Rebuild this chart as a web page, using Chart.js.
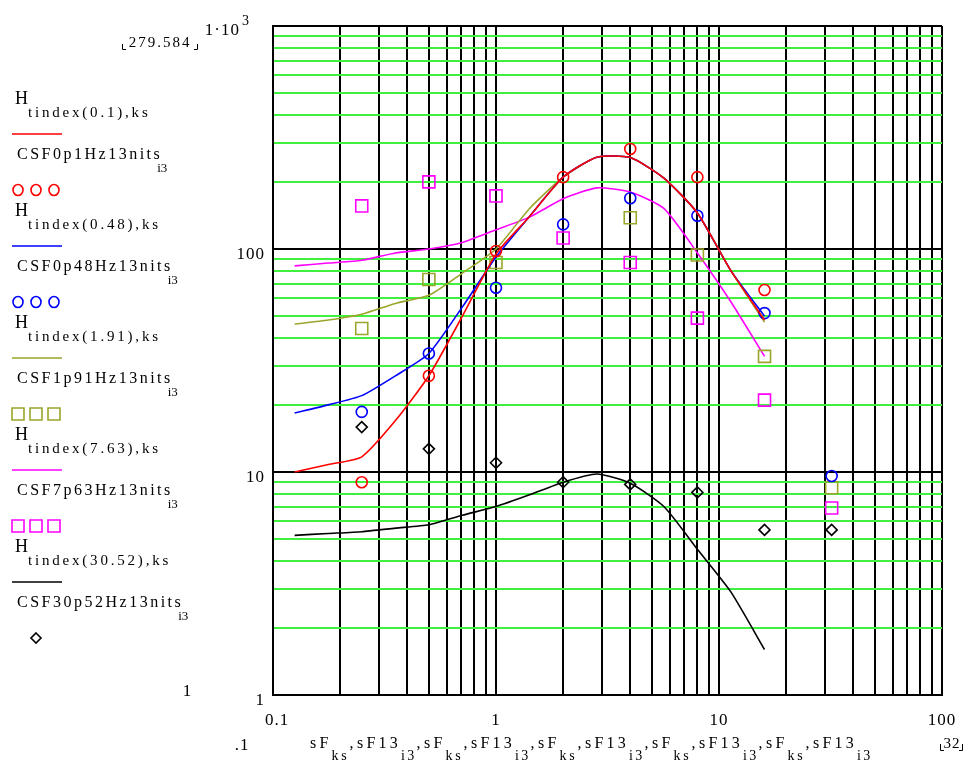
<!DOCTYPE html>
<html>
<head>
<meta charset="utf-8">
<script src="https://cdn.jsdelivr.net/npm/chart.js@4.4.1/dist/chart.umd.min.js"></script>
<style>
  html, body { margin: 0; padding: 0; background: #fff; }
  #wrap { width: 963px; height: 768px; }
</style>
</head>
<body>
<div id="wrap"><canvas id="chart" width="963" height="768"></canvas></div>
<script>
// --- model curves H_tindex(f), sampled on ks ---
const lineX  = [0.125, 0.177, 0.25, 0.354, 0.5, 0.707, 1, 1.414, 2, 2.83, 4, 5.66, 8, 11.3, 16];
const hRed   = [10, 10.8, 11.7, 17, 27, 50, 95, 140, 210, 258, 257, 208, 145, 80, 48];
const hBlue  = [18.4, 20, 22, 27, 34, 55, 92, 140, 210, 258, 257, 208, 145, 80, 50];
const hOlive = [46, 48, 51, 57, 62, 78, 100, 152, 210, 258, 257, 208, 145, 80, 47];
const hPink  = [84, 86.5, 89, 96, 100, 107, 122, 139, 168, 188, 180, 152, 96, 58, 33];
const hBlack = [5.2, 5.3, 5.4, 5.6, 5.8, 6.4, 7.0, 7.9, 9.0, 9.8, 8.9, 7.0, 4.5, 2.9, 1.6];

// --- measured CSF points, sF13_i3 ---
const csfX     = [0.25, 0.5, 1, 2, 4, 8, 16, 32];
const csfRed   = [9.0, 27, 98, 210, 281, 210, 65.5, null];
const csfBlue  = [18.6, 34, 67, 129, 169, 141, 51.6, 9.6];
const csfOlive = [44, 73, 87, null, 138, 94, 33, 8.5];
const csfPink  = [156, 200, 173, 112, 87, 49, 21, 6.9];
const csfBlack = [15.9, 12.7, 11, 9.0, 8.8, 8.1, 5.5, 5.5];

// axes
const xDecades = [0.1, 1, 10, 100];
const yDecades = [1, 10, 100, 1000];
const xTickLabels = ['0.1', '1', '10', '100'];
const yTickLabels = ['1', '10', '100', '1\u00b710'];

// legend texts
const hLabels   = ['tindex(0.1),ks', 'tindex(0.48),ks', 'tindex(1.91),ks', 'tindex(7.63),ks', 'tindex(30.52),ks'];
const csfLabels = ['CSF0p1Hz13nits', 'CSF0p48Hz13nits', 'CSF1p91Hz13nits', 'CSF7p63Hz13nits', 'CSF30p52Hz13nits'];

const colors  = ['#ff0000', '#0000ff', '#9aa52a', '#ff00ff', '#000000'];
const markers = ['circle', 'circle', 'rect', 'rect', 'rectRot'];
const GREEN = '#3ff03f';
const FONT = '"Liberation Serif", "DejaVu Serif", serif';

function gridValues(decades) {
  const vals = [];
  for (let i = 0; i < decades.length - 1; i++) {
    for (let k = 1; k <= 9; k++) vals.push(decades[i] * k);
  }
  vals.push(decades[decades.length - 1]);
  return vals;
}
function isDecade(v) {
  const l = Math.log10(v);
  return Math.abs(l - Math.round(l)) < 1e-9;
}

const curves = [hRed, hBlue, hOlive, hPink, hBlack];
const points = [csfRed, csfBlue, csfOlive, csfPink, csfBlack];

const datasets = [];
curves.forEach((ys, i) => {
  datasets.push({
    data: lineX.map((x, j) => ({ x, y: ys[j] })),
    showLine: true,
    borderColor: colors[i],
    borderWidth: 1.6,
    pointRadius: 0,
    tension: 0.2,
    fill: false
  });
  datasets.push({
    data: csfX.map((x, j) => ({ x, y: points[i][j] })).filter(p => p.y != null),
    showLine: false,
    pointStyle: markers[i],
    pointRadius: markers[i] === 'rect' ? 8.5 : 5.5,
    pointBorderWidth: 1.6,
    pointBorderColor: colors[i],
    pointBackgroundColor: 'rgba(0,0,0,0)'
  });
});

function txt(ctx, s, x, y, size, align, spacing) {
  ctx.font = size + 'px ' + FONT;
  ctx.letterSpacing = (spacing || 0) + 'px';
  ctx.textAlign = align || 'left';
  ctx.fillText(s, x, y);
  return ctx.measureText(s).width;
}

function marker(ctx, style, x, y, color) {
  ctx.strokeStyle = color;
  ctx.lineWidth = 1.6;
  ctx.beginPath();
  if (style === 'circle') {
    ctx.ellipse(x, y, 5, 5.5, 0, 0, Math.PI * 2);
  } else if (style === 'rect') {
    ctx.rect(x - 6, y - 6, 12, 12);
  } else {
    ctx.moveTo(x, y - 5); ctx.lineTo(x + 5, y); ctx.lineTo(x, y + 5); ctx.lineTo(x - 5, y); ctx.closePath();
  }
  ctx.stroke();
}

const mathcadText = {
  id: 'mathcadText',
  afterDraw(chart) {
    const ctx = chart.ctx;
    const xs = chart.scales.x, ys = chart.scales.y;
    ctx.save();
    ctx.fillStyle = '#000';
    ctx.textBaseline = 'alphabetic';

    // y tick labels
    yDecades.forEach((v, i) => {
      const py = ys.getPixelForValue(v);
      if (i === yDecades.length - 1) {
        txt(ctx, yTickLabels[i], 240, py + 9, 17, 'right', 1);
        txt(ctx, '3', 242, py - 1, 14, 'left', 0);
      } else {
        txt(ctx, yTickLabels[i], 265, py + 10, 17, 'right', 1);
      }
    });
    // x tick labels
    xDecades.forEach((v, i) => {
      const px = xs.getPixelForValue(v);
      txt(ctx, xTickLabels[i], px + (i === 0 ? 4 : 0), 725, 17, 'center', 1);
    });

    // range limits
    txt(ctx, '279.584', 160, 47, 15, 'center', 2);
    ctx.strokeStyle = '#000'; ctx.lineWidth = 1;
    ctx.beginPath();
    ctx.moveTo(122.5, 44); ctx.lineTo(122.5, 49.5); ctx.lineTo(126, 49.5);
    ctx.moveTo(197.5, 44); ctx.lineTo(197.5, 49.5); ctx.lineTo(194, 49.5);
    ctx.stroke();
    txt(ctx, '1', 187, 696, 17, 'center', 0);
    txt(ctx, '.1', 242, 750, 17, 'center', 1);
    txt(ctx, '32', 952, 748, 15, 'center', 1);
    ctx.beginPath();
    ctx.moveTo(940.5, 744); ctx.lineTo(940.5, 750.5); ctx.lineTo(944, 750.5);
    ctx.moveTo(962.5, 744); ctx.lineTo(962.5, 750.5); ctx.lineTo(959, 750.5);
    ctx.stroke();

    // x axis expression
    let x = 310;
    for (let k = 0; k < 5; k++) {
      x += txt(ctx, 'sF', x, 748, 16, 'left', 3.2);
      x += txt(ctx, 'ks', x, 760, 14, 'left', 2.8);
      x += txt(ctx, ',', x, 748, 16, 'left', 3.5);
      x += txt(ctx, 'sF13', x, 748, 16, 'left', 3.2);
      x += txt(ctx, 'i3', x, 760, 14, 'left', 2.3);
      if (k < 4) x += txt(ctx, ',', x, 748, 16, 'left', 3.5);
    }

    // legend
    for (let g = 0; g < 5; g++) {
      const base = 104 + 112 * g;
      ctx.fillStyle = '#000';
      const hw = txt(ctx, 'H', 15, base, 18, 'left', 0);
      txt(ctx, hLabels[g], 15 + hw, base + 13, 15, 'left', 2.8);
      ctx.strokeStyle = colors[g];
      ctx.lineWidth = 1.6;
      ctx.beginPath();
      ctx.moveTo(12, base + 30); ctx.lineTo(62, base + 30);
      ctx.stroke();
      const cw = txt(ctx, csfLabels[g], 17, base + 55, 16, 'left', 2.5);
      txt(ctx, 'i3', 17 + cw - 5, base + 68, 13, 'left', 0);
      if (g < 4) {
        [18, 36, 54].forEach(mx => marker(ctx, markers[g], mx, base + 86, colors[g]));
      } else {
        marker(ctx, markers[g], 36, base + 86, colors[g]);
      }
    }
    ctx.restore();
  }
};

new Chart(document.getElementById('chart'), {
  type: 'scatter',
  data: { datasets },
  options: {
    responsive: false,
    animation: false,
    devicePixelRatio: 1,
    layout: { padding: { left: 273, right: 21, top: 26, bottom: 73 } },
    plugins: { legend: { display: false }, tooltip: { enabled: false } },
    scales: {
      x: {
        type: 'logarithmic',
        min: 0.1, max: 100,
        afterBuildTicks: s => { s.ticks = gridValues(xDecades).map(v => ({ value: v })); },
        ticks: { display: false },
        grid: { color: '#000', lineWidth: 2, drawTicks: false },
        border: { color: '#000', width: 2 }
      },
      y: {
        type: 'logarithmic',
        min: 1, max: 1000,
        afterBuildTicks: s => { s.ticks = gridValues(yDecades).map(v => ({ value: v })); },
        ticks: { display: false },
        grid: {
          color: c => isDecade(c.tick.value) ? '#000' : GREEN,
          lineWidth: 2,
          drawTicks: false
        },
        border: { color: '#000', width: 2 }
      }
    }
  },
  plugins: [mathcadText]
});
</script>
</body>
</html>
